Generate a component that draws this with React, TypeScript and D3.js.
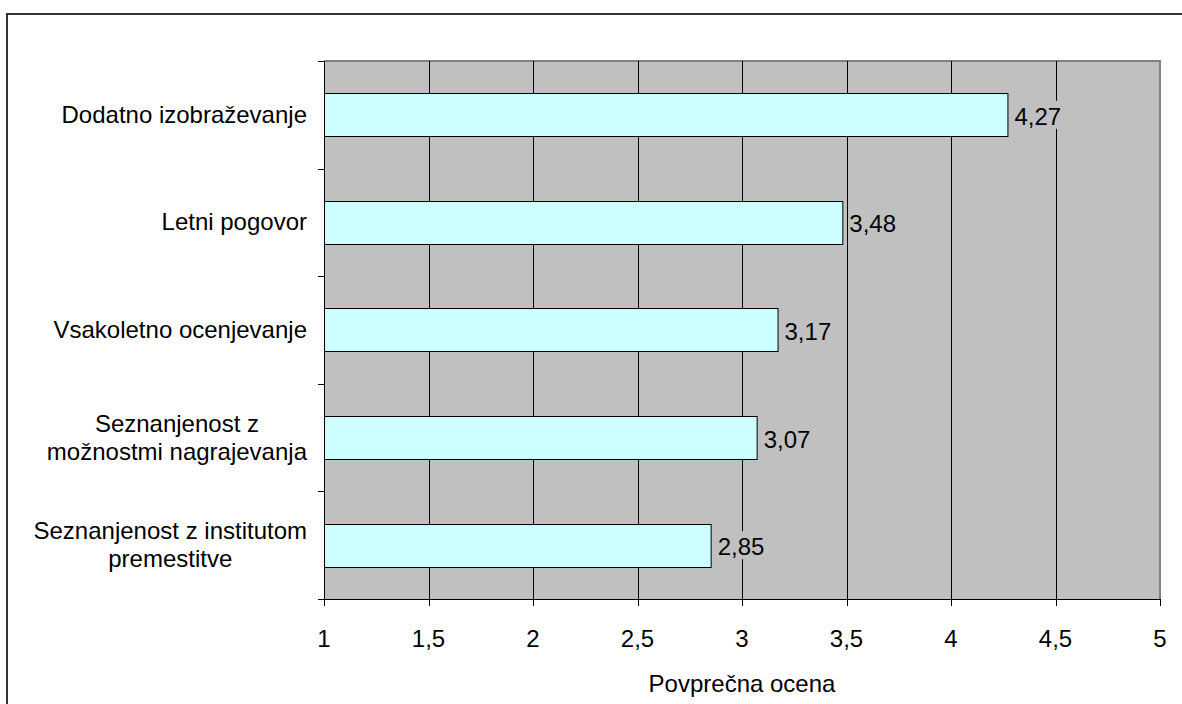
import React from "react";
import * as d3 from "d3";

// Average ratings per topic (scale 1–5)
const categories: string[][] = [
  ["Dodatno izobraževanje"],
  ["Letni pogovor"],
  ["Vsakoletno ocenjevanje"],
  ["Seznanjenost z", "možnostmi nagrajevanja"],
  ["Seznanjenost z institutom", "premestitve"],
];
const values: number[] = [4.27, 3.48, 3.17, 3.07, 2.85];
const xTicks: number[] = [1, 1.5, 2, 2.5, 3, 3.5, 4, 4.5, 5];
const axisTitle = "Povprečna ocena";

const W = 1182;
const H = 704;
const FONT = "'Liberation Sans', Arial, sans-serif";
const FS = 24;

const plot = { left: 324, right: 1160, top: 61, bottom: 599 };

const fmt = (v: number) => String(v).replace(".", ",");

let measureCtx: CanvasRenderingContext2D | null = null;
function textWidth(s: string): number {
  if (!measureCtx) {
    const c = document.createElement("canvas");
    measureCtx = c.getContext("2d");
  }
  if (!measureCtx) return s.length * FS * 0.5;
  measureCtx.font = `${FS}px ${FONT}`;
  return measureCtx.measureText(s).width;
}

export default function App() {
  const x = d3.scaleLinear().domain([1, 5]).range([plot.left, plot.right]);
  const idx = categories.map((_, i) => String(i));
  const y = d3
    .scaleBand<string>()
    .domain(idx)
    .range([plot.top, plot.bottom])
    .paddingInner(0.6)
    .paddingOuter(0.3);
  const step = y.step();
  const bandEdges = d3.range(categories.length + 1).map((i) => plot.top + i * step);

  return (
    <svg
      width={W}
      height={H}
      style={{ position: "absolute", left: 0, top: 0, background: "#ffffff" }}
      fontFamily={FONT}
      fontSize={FS}
    >
      {/* chart frame */}
      <rect x={7} y={14} width={W + 20} height={H + 20} fill="#ffffff" stroke="#333333" strokeWidth={2} />

      {/* plot area */}
      <rect
        x={plot.left}
        y={plot.top}
        width={plot.right - plot.left}
        height={plot.bottom - plot.top}
        fill="#c0c0c0"
      />
      <path
        d={`M${plot.left},${plot.top}H${plot.right}V${plot.bottom}`}
        fill="none"
        stroke="#808080"
        strokeWidth={2}
      />

      {/* vertical gridlines */}
      {xTicks
        .filter((t) => t > 1 && t < 5)
        .map((t) => (
          <line
            key={`g${t}`}
            x1={Math.round(x(t)) + 0.5}
            x2={Math.round(x(t)) + 0.5}
            y1={plot.top}
            y2={plot.bottom}
            stroke="#000000"
            strokeWidth={1}
          />
        ))}

      {/* bars */}
      {values.map((v, i) => (
        <rect
          key={`b${i}`}
          x={x(1) + 0.5}
          y={Math.round(y(String(i)) as number) + 0.5}
          width={x(v) - x(1)}
          height={Math.round(y.bandwidth())}
          fill="#ccffff"
          stroke="#000000"
          strokeWidth={1}
        />
      ))}

      {/* value labels */}
      {values.map((v, i) => {
        const cy = (y(String(i)) as number) + y.bandwidth() / 2;
        const label = fmt(v);
        const tw = textWidth(label);
        const lx = x(v) + 7;
        return (
          <g key={`v${i}`}>
            <rect x={lx - 1} y={cy - 14} width={tw + 2} height={28} fill="#c0c0c0" />
            <text x={lx} y={cy + 10} fill="#000000">
              {label}
            </text>
          </g>
        );
      })}

      {/* y axis */}
      <line x1={plot.left + 0.5} x2={plot.left + 0.5} y1={plot.top} y2={plot.bottom} stroke="#000000" />
      {bandEdges.map((e, i) => (
        <line
          key={`yt${i}`}
          x1={plot.left - 6}
          x2={plot.left}
          y1={Math.round(e) + 0.5}
          y2={Math.round(e) + 0.5}
          stroke="#000000"
        />
      ))}

      {/* category labels: lines centered, block right-aligned */}
      {categories.map((lines, i) => {
        const cy = (y(String(i)) as number) + y.bandwidth() / 2;
        const maxW = Math.max(...lines.map(textWidth));
        const cx = 307 - maxW / 2;
        const lh = 28;
        const first = cy - ((lines.length - 1) * lh) / 2;
        return (
          <text key={`c${i}`} textAnchor="middle" fill="#000000">
            {lines.map((ln, j) => (
              <tspan key={j} x={cx} y={first + j * lh + 8}>
                {ln}
              </tspan>
            ))}
          </text>
        );
      })}

      {/* x axis */}
      <line x1={plot.left} x2={plot.right} y1={plot.bottom + 0.5} y2={plot.bottom + 0.5} stroke="#000000" />
      {xTicks.map((t) => (
        <g key={`xt${t}`}>
          <line
            x1={Math.round(x(t)) + 0.5}
            x2={Math.round(x(t)) + 0.5}
            y1={plot.bottom}
            y2={plot.bottom + 7}
            stroke="#000000"
          />
          <text x={x(t)} y={647} textAnchor="middle" fill="#000000">
            {fmt(t)}
          </text>
        </g>
      ))}

      <text x={(plot.left + plot.right) / 2} y={692} textAnchor="middle" fill="#000000">
        {axisTitle}
      </text>
    </svg>
  );
}
